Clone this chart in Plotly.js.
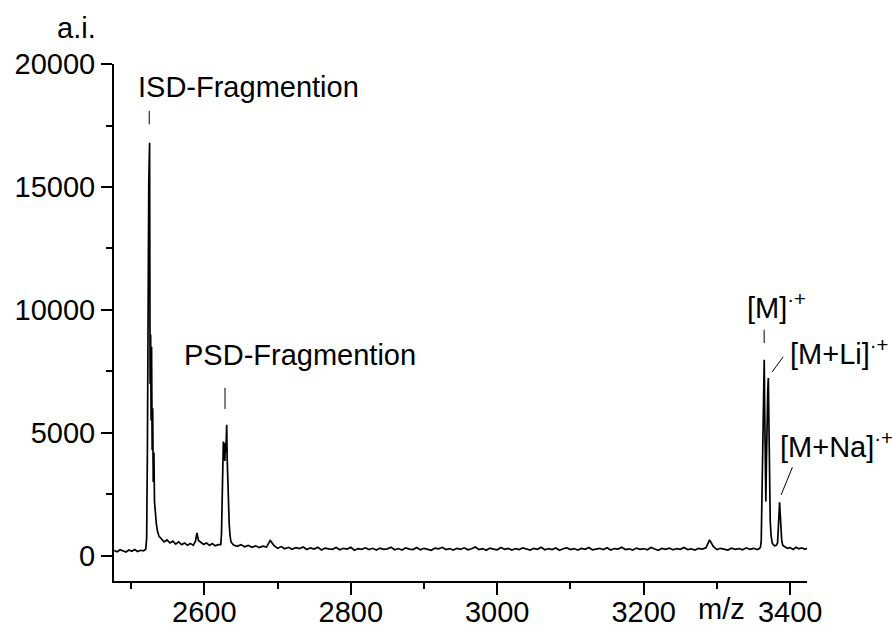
<!DOCTYPE html>
<html><head><meta charset="utf-8">
<script src="https://cdn.plot.ly/plotly-3.0.1.min.js"></script>
<style>html,body{margin:0;padding:0;background:#fff}</style>
</head><body>
<div id="chart" style="width:892px;height:625px"></div>
<script>
// m/z and intensity (a.i.)
const mzPre = [2477,2481,2485,2489,2493,2497,2501,2505,2509,2513,2517];
const aiPre = [210,160,240,190,150,230,180,250,170,220,200];

const mzISD = [2520,2521.3,2522.3,2523.3,2524.2,2525.3,2526,2526.7,2527.4,2528,2528.8,2529.5,2530.3,2531.2,2532,2533,2534.5,2536,2538];
const aiISD = [260,700,4200,11000,15200,16800,7000,9000,5500,8500,4300,6000,3000,4200,2200,1700,1300,1000,800];

const mzPlateau = [2541,2545,2549,2553,2557,2561,2565,2569,2573,2577,2581,2585,2588,2590,2592,2595,2599,2603,2607,2611,2615,2619];
const aiPlateau = [700,560,640,520,590,470,560,450,520,430,500,420,600,930,620,540,460,520,420,490,400,450];

const mzPSD = [2622.5,2623.5,2624.5,2625.3,2626,2626.7,2627.4,2628.1,2628.8,2629.5,2630.1,2630.6,2631.2,2632,2633,2634,2635.2,2636.5];
const aiPSD = [450,900,2600,4100,4650,3900,4550,3850,4600,4200,4700,5330,4000,3100,2100,1300,800,560];

const mzBase = [
2640,2645,2650,2655,2660,2665,2670,2675,2680,2685,
2690,2695,2700,2705,2710,2715,2720,2725,2730,2735,
2740,2745,2750,2755,2760,2765,2770,2775,2780,2785,
2790,2795,2800,2805,2810,2815,2820,2825,2830,2835,
2840,2845,2850,2855,2860,2865,2870,2875,2880,2885,
2890,2895,2900,2905,2910,2915,2920,2925,2930,2935,
2940,2945,2950,2955,2960,2965,2970,2975,2980,2985,
2990,2995,3000,3005,3010,3015,3020,3025,3030,3035,
3040,3045,3050,3055,3060,3065,3070,3075,3080,3085,
3090,3095,3100,3105,3110,3115,3120,3125,3130,3135,
3140,3145,3150,3155,3160,3165,3170,3175,3180,3185,
3190,3195,3200,3205,3210,3215,3220,3225,3230,3235,
3240,3245,3250,3255,3260,3265,3270,3275,3280,3285,
3290,3295,3300,3305,3310,3315,3320,3325,3330,3335,
3340,3345,3350,3355];
const aiBase = [
430,380,450,360,420,340,400,330,390,350,
620,420,300,370,280,340,260,330,290,350,
250,320,270,340,230,310,280,260,330,240,
300,270,340,220,290,260,320,250,300,230,
310,260,280,340,240,290,230,320,270,250,
330,240,300,260,220,310,280,340,250,290,
230,300,260,320,240,280,350,250,290,220,
310,270,240,330,260,300,230,290,250,320,
270,230,300,260,340,240,290,250,310,220,
280,320,250,290,230,300,260,330,240,280,
300,250,320,230,290,270,340,250,280,230,
310,260,290,240,330,270,220,300,260,310,
240,290,260,330,250,280,230,300,270,320,
640,380,250,300,270,230,310,260,290,240,
320,260,300,250];

const mzMol = [3358,3359.5,3360.5,3361.5,3362.5,3363.3,3364,3364.6,3365.3,3366,3366.8,3367.6,3368.5,3369.4,3370.2,3371,3371.8,3372.8,3374,3375.5,3377,3379,3381,3382.8,3383.8,3384.8,3385.6,3386.4,3387.3,3388.5,3390];
const aiMol = [290,350,600,2600,5400,6800,7400,7970,5800,3400,2200,3800,5900,6700,7230,5200,2800,1400,800,520,450,400,420,520,1100,1800,2170,1700,1000,600,420];

const mzEnd = [3392,3396,3400,3404,3408,3412,3416,3420,3423];
const aiEnd = [380,300,330,250,340,280,320,260,300];

const mz = [].concat(mzPre, mzISD, mzPlateau, mzPSD, mzBase, mzMol, mzEnd);
const ai = [].concat(aiPre, aiISD, aiPlateau, aiPSD, aiBase, aiMol, aiEnd);

const FONT = 'Liberation Sans, Arial, sans-serif';
const trace = {x: mz, y: ai, type: 'scatter', mode: 'lines',
  line: {color: '#000', width: 1.7}, hoverinfo: 'skip'};

const txt = (text, x, y, xa) => ({text, x, y, xref: 'x', yref: 'y', showarrow: false,
  xanchor: xa || 'left', yanchor: 'middle', font: {family: FONT, size: 29, color: '#000'}});
const seg = (x0, y0, x1, y1) => ({type: 'line', xref: 'x', yref: 'y', x0, y0, x1, y1,
  line: {color: '#000', width: 1}});

const layout = {
  width: 892, height: 625,
  margin: {l: 114, r: 85, t: 64, b: 44},
  paper_bgcolor: '#fff', plot_bgcolor: '#fff',
  showlegend: false,
  font: {family: FONT, size: 29, color: '#000'},
  xaxis: {range: [2476.7, 3423], showgrid: false, zeroline: false,
    showline: true, linecolor: '#000', linewidth: 2,
    ticks: 'outside', ticklen: 12, tickwidth: 2, tickcolor: '#000',
    tick0: 2400, dtick: 200, tickformat: 'd', ticklabelstandoff: -8,
    minor: {dtick: 100, ticks: 'outside', ticklen: 6, tickwidth: 2, tickcolor: '#000'},
    tickfont: {family: FONT, size: 29, color: '#000'}},
  yaxis: {range: [-1030, 20005], showgrid: false, zeroline: false,
    showline: true, linecolor: '#000', linewidth: 2,
    ticks: 'outside', ticklen: 11, tickwidth: 2, tickcolor: '#000',
    tick0: 0, dtick: 5000, tickformat: 'd', exponentformat: 'none',
    minor: {dtick: 2500, ticks: 'outside', ticklen: 6, tickwidth: 2, tickcolor: '#000'},
    tickfont: {family: FONT, size: 29, color: '#000'}},
  annotations: [
    {text: 'a.i.', xref: 'paper', yref: 'paper', x: -0.054, y: 1.07, xanchor: 'center', yanchor: 'middle',
      showarrow: false, font: {family: FONT, size: 29, color: '#000'}},
    {text: 'm/z', xref: 'paper', yref: 'paper', x: 0.877, y: -0.054, xanchor: 'center', yanchor: 'middle',
      showarrow: false, font: {family: FONT, size: 29, color: '#000'}},
    txt('ISD-Fragmention', 2506.7, 19084),
    txt('PSD-Fragmention', 2569.5, 8176),
    txt('[M]<sup>·+</sup>', 3338.8, 10166),
    txt('[M+Li]<sup>·+</sup>', 3397.5, 8294),
    txt('[M+Na]<sup>·+</sup>', 3383.8, 4508)
  ],
  shapes: [
    seg(2524.8, 17550, 2524.8, 18100),
    seg(2628.3, 5970, 2628.3, 6830),
    seg(3364.5, 8650, 3364.5, 9190),
    seg(3390.4, 8090, 3375.4, 7475),
    seg(3403.1, 3600, 3387.6, 2470)
  ]
};

Plotly.newPlot('chart', [trace], layout, {displayModeBar: false, staticPlot: true});
</script>
</body></html>
